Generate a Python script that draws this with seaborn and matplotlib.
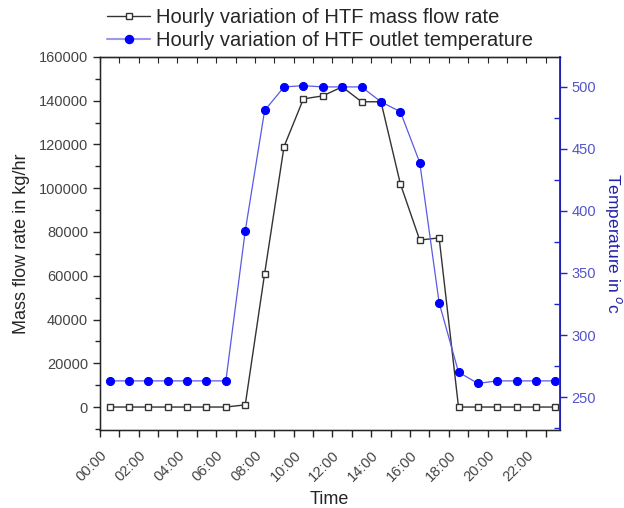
import numpy as np
import pandas as pd
import seaborn as sns
import matplotlib.pyplot as plt
from matplotlib.ticker import MultipleLocator, FixedLocator
from matplotlib.lines import Line2D

# hourly values, plotted at the half hour
hours = [h + 0.5 for h in range(24)]
mass_flow = [0, 0, 0, 0, 0, 0, 0, 1000, 61000, 119000, 140800, 142200,
             146300, 139500, 139500, 102000, 76300, 77300, 0, 0, 0, 0, 0, 0]
outlet_temp = [263, 263, 263, 263, 263, 263, 263, 384, 481, 500, 501, 500,
               500, 500, 488, 480, 439, 326, 270, 261, 263, 263, 263, 263]
tick_hours = list(range(0, 24, 2))
tick_labels = ['%02d:00' % h for h in tick_hours]

df = pd.DataFrame({'hour': hours, 'mass': mass_flow, 'temp': outlet_temp})

sns.set_style('white')
plt.rcParams['font.family'] = ['Liberation Sans', 'DejaVu Sans']

fig = plt.figure(figsize=(6.24, 5.08), dpi=100)
ax = fig.add_axes([0.160, 0.1535, 0.737, 0.7345])
ax2 = ax.twinx()

sns.lineplot(data=df, x='hour', y='mass', ax=ax, color='#333333', lw=1.0,
             marker='s', markersize=4.6, markerfacecolor='white',
             markeredgecolor='#333333', markeredgewidth=1.0)
sns.lineplot(data=df, x='hour', y='temp', ax=ax2, color='#5a5ae6', lw=0.9,
             marker='o', markersize=5.8, markerfacecolor='#0000ff',
             markeredgecolor='#0000ff')

ax.set_xlim(0, 23.72)
ax.set_ylim(-10500, 160000)
ax2.set_ylim(223.4, 524.2)

ax.xaxis.set_major_locator(FixedLocator(tick_hours))
ax.set_xticklabels(tick_labels, rotation=45, ha='right', rotation_mode='anchor',
                   fontsize=10.5, color='#444444')
ax.xaxis.set_minor_locator(MultipleLocator(1))
ax.yaxis.set_major_locator(MultipleLocator(20000))
ax.yaxis.set_minor_locator(MultipleLocator(10000))
ax.tick_params(axis='y', labelsize=10.5, labelcolor='#444444')
ax.tick_params(which='both', direction='out', bottom=True, left=True, width=1)
ax.tick_params(which='major', length=5)
ax.tick_params(which='minor', length=3.5)
ax.tick_params(axis='x', which='minor', length=5)
ax.tick_params(axis='x', pad=8)

top = ax.secondary_xaxis('top')
top.xaxis.set_major_locator(MultipleLocator(1))
top.tick_params(direction='in', length=4, labeltop=False)

ax2.yaxis.set_major_locator(MultipleLocator(50))
ax2.yaxis.set_minor_locator(MultipleLocator(25))
ax2.tick_params(axis='y', which='major', direction='out', length=5, width=1,
                colors='#2222cc', labelcolor='#5555cc', labelsize=10.5)
ax2.tick_params(axis='y', which='minor', direction='in', length=4, width=1,
                colors='#2222cc')
ax2.spines['right'].set_color('#2222bb')
ax2.spines['right'].set_linewidth(1.3)
for s in ['left', 'bottom', 'top']:
    ax.spines[s].set_color('black')
    ax.spines[s].set_linewidth(1.0)

ax.set_xlabel('Time', fontsize=13, labelpad=5)
ax.set_ylabel('Mass flow rate in kg/hr', fontsize=13, labelpad=6)
ax2.set_ylabel('Temperature in $^{o}$c', fontsize=12.5, color='#2222aa',
               rotation=270, labelpad=20)

handles = [Line2D([], [], color='#333333', lw=1, marker='s', markersize=4.6,
                  markerfacecolor='white', markeredgecolor='#333333'),
           Line2D([], [], color='#9999ee', lw=1.5, marker='o', markersize=5.8,
                  markerfacecolor='#0000ff', markeredgecolor='#0000ff')]
fig.legend(handles, ['Hourly variation of HTF mass flow rate',
                     'Hourly variation of HTF outlet temperature'],
           loc='upper center', bbox_to_anchor=(0.513, 1.02), frameon=False,
           fontsize=14.5, handlelength=2.1, labelspacing=0.2, handletextpad=0.3)

fig.savefig('out.png', dpi=100)
